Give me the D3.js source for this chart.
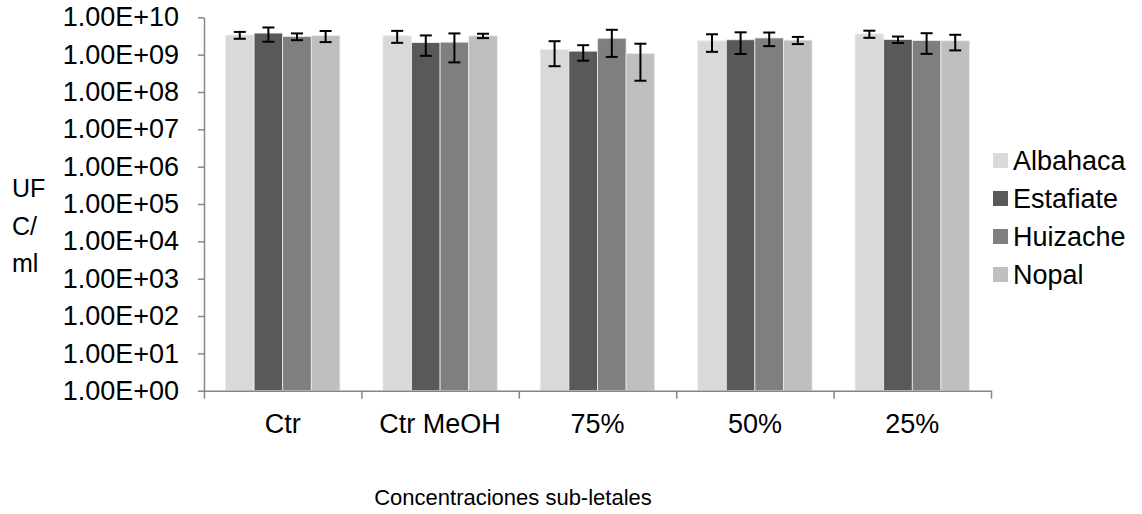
<!DOCTYPE html>
<html>
<head>
<meta charset="utf-8">
<script src="https://cdn.jsdelivr.net/npm/d3@7"></script>
<style>
    body { margin: 0; background: #fff; }
    text { font-family: "Liberation Sans", Arial, sans-serif; fill: #000; }
</style>
</head>
<body>
<div id="root"></div>
<script>
"use strict";

/* ************************************* Data ******************************** */

const categories = ["Ctr", "Ctr MeOH", "75%", "50%", "25%"];
const seriesNames = ["Albahaca", "Estafiate", "Huizache", "Nopal"];

// UFC/ml per concentration, with the +/- error of each bar
const albahaca = [3.36e9, 3.2e9, 1.39e9, 2.35e9, 3.6e9];
const albahacaErr = [0.7e9, 1.13e9, 0.9e9, 1.16e9, 0.78e9];
const estafiate = [3.78e9, 2.1e9, 1.24e9, 2.5e9, 2.55e9];
const estafiateErr = [1.56e9, 1.17e9, 0.55e9, 1.46e9, 0.5e9];
const huizache = [3.07e9, 2.16e9, 2.75e9, 2.8e9, 2.4e9];
const huizacheErr = [0.63e9, 1.54e9, 1.88e9, 1.11e9, 1.35e9];
const nopal = [3.23e9, 3.2e9, 1.08e9, 2.45e9, 2.35e9];
const nopalErr = [1.06e9, 0.43e9, 0.88e9, 0.53e9, 1.05e9];

const yTicks = [1e0, 1e1, 1e2, 1e3, 1e4, 1e5, 1e6, 1e7, 1e8, 1e9, 1e10];

/* ************************************* Set up ******************************** */

const width = 1142;
const height = 514;

const plot = { left: 204, right: 991, top: 17.3, bottom: 390.7 };

const colors = ["#d9d9d9", "#595959", "#7f7f7f", "#bfbfbf"];
const axisColor = "#868686";
const labelSize = '27px';

let svg = d3.select('#root')
    .append('svg')
    .attr('width', width)
    .attr('height', height);

// Build a flat table from the named arrays
const values = [albahaca, estafiate, huizache, nopal];
const errors = [albahacaErr, estafiateErr, huizacheErr, nopalErr];
let data = [];
categories.forEach((c, i) => {
    seriesNames.forEach((s, j) => {
        data.push({ cat: c, series: s, value: values[j][i], err: errors[j][i], color: colors[j] });
    });
});

/* ************************************* Scales ******************************** */

let xScale = d3.scaleBand()
    .domain(categories)
    .range([plot.left, plot.right]);

// Excel style gap width of 150% -> outer padding of 0.75 step
let xSub = d3.scaleBand()
    .domain(seriesNames)
    .range([0, xScale.bandwidth()])
    .paddingOuter(0.75);

let yScale = d3.scaleLog()
    .domain([1, 1e10])
    .range([plot.bottom, plot.top]);

/* ************************************* Bars + error bars ******************************** */

let barG = svg.append('g');

barG.selectAll('rect').data(data).enter().append('rect')
    .attr('x', (d) => xScale(d.cat) + xSub(d.series))
    .attr('width', xSub.bandwidth())
    .attr('y', (d) => yScale(d.value))
    .attr('height', (d) => yScale(1) - yScale(d.value))
    .attr('fill', (d) => d.color)
    .attr('stroke', '#eeeeee')
    .attr('stroke-width', 0.8);

let errG = svg.append('g')
    .attr('stroke', '#000')
    .attr('stroke-width', 2);

const cap = 6;
data.forEach((d) => {
    let cx = xScale(d.cat) + xSub(d.series) + xSub.bandwidth() / 2;
    let hi = yScale(d.value + d.err);
    let lo = yScale(Math.max(d.value - d.err, 1));
    errG.append('line').attr('x1', cx).attr('x2', cx).attr('y1', hi).attr('y2', lo);
    errG.append('line').attr('x1', cx - cap).attr('x2', cx + cap).attr('y1', hi).attr('y2', hi);
    errG.append('line').attr('x1', cx - cap).attr('x2', cx + cap).attr('y1', lo).attr('y2', lo);
});

/* ************************************* Axes ******************************** */

let yAxis = d3.axisLeft(yScale)
    .tickValues(yTicks)
    .tickSize(6)
    .tickSizeOuter(0)
    .tickPadding(19)
    .tickFormat((d) => "1.00E+" + String(Math.round(Math.log10(d))).padStart(2, "0"));

let yAxisG = svg.append('g')
    .attr('transform', `translate(${plot.left},0)`)
    .call(yAxis);

yAxisG.selectAll('text').style('font-size', labelSize);

// Ticks of the category axis sit on the band edges
let edgeScale = d3.scaleLinear()
    .domain([0, categories.length])
    .range([plot.left, plot.right]);

let xEdges = d3.axisBottom(edgeScale)
    .ticks(categories.length)
    .tickSize(8)
    .tickSizeOuter(0)
    .tickFormat("");

let xAxisG = svg.append('g')
    .attr('transform', `translate(0,${plot.bottom})`)
    .call(xEdges);

let xLabels = d3.axisBottom(xScale)
    .tickSize(0)
    .tickPadding(23);

let xLabelG = svg.append('g')
    .attr('transform', `translate(0,${plot.bottom})`)
    .call(xLabels);

xLabelG.select('.domain').remove();
xLabelG.selectAll('text').style('font-size', labelSize);

svg.selectAll('.domain, .tick line')
    .attr('stroke', axisColor)
    .attr('stroke-width', 1.5);

/* ************************************* Titles ******************************** */

svg.append('text')
    .attr('x', 513)
    .attr('y', 505)
    .attr('text-anchor', 'middle')
    .style('font-size', '22px')
    .text("Concentraciones sub-letales");

svg.append('text')
    .attr('x', 12)
    .attr('y', 197)
    .style('font-size', '25px')
    .selectAll('tspan')
    .data(["UF", "C/", "ml"])
    .enter().append('tspan')
    .attr('x', 12)
    .attr('dy', (d, i) => i === 0 ? 0 : 37.5)
    .text((d) => d);

/* ************************************* Legend ******************************** */

let legend = svg.append('g')
    .attr('transform', 'translate(993,160)');

let rows = legend.selectAll('g').data(seriesNames).enter().append('g')
    .attr('transform', (d, i) => `translate(0,${i * 38})`);

rows.append('rect')
    .attr('x', 0)
    .attr('y', -7)
    .attr('width', 15)
    .attr('height', 15)
    .attr('fill', (d, i) => colors[i]);

rows.append('text')
    .attr('x', 20)
    .attr('y', 10)
    .style('font-size', labelSize)
    .text((d) => d);
</script>
</body>
</html>
